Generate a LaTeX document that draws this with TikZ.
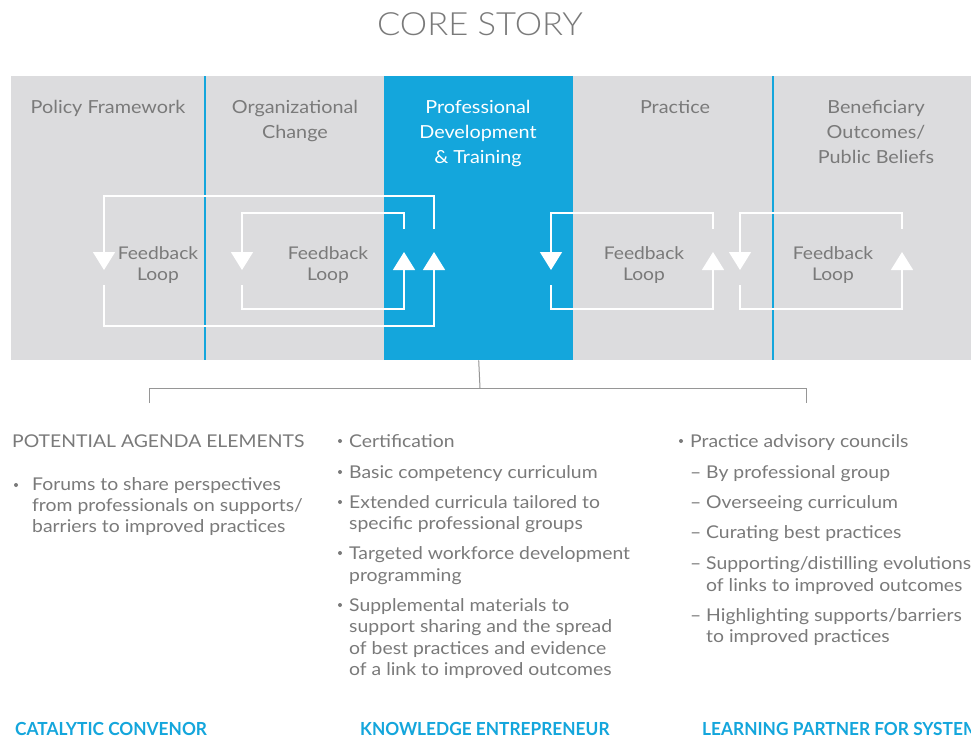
\documentclass[tikz,border=0pt]{standalone}
\usepackage{fontspec}
\setmainfont{Lato}[FakeStretch=1.1]
\newfontfamily\lightfont{Lato Light}[FakeStretch=1.08]
\newfontfamily\rolefont{Lato}[FakeStretch=0.96]
\usepackage{tikz}
\usepackage{xcolor}
\usetikzlibrary{arrows.meta, positioning, calc}

\definecolor{coreblue}{RGB}{20,166,220}
\definecolor{bandgray}{RGB}{220,220,222}
\definecolor{txtgray}{RGB}{122,122,122}
\definecolor{rulegray}{RGB}{150,150,150}

\tikzset{
    colhead/.style={anchor=north, align=center, inner sep=0pt, text=txtgray,
        font=\fontsize{18}{25}\selectfont},
    fbtext/.style={anchor=north, align=center, inner sep=0pt, text=txtgray,
        font=\fontsize{17.5}{21}\selectfont},
    fbline/.style={draw=white, line width=1.5pt, -{Triangle[width=22pt,length=18pt]}},
    bodyline/.style={anchor=base west, inner sep=0pt, text=txtgray,
        font=\fontsize{17.6}{21}\selectfont},
    rolelabel/.style={anchor=base west, inner sep=0pt, text=coreblue,
        font=\rolefont\fontsize{18}{22}\selectfont\bfseries}
}

\begin{document}
\begin{tikzpicture}[x=1pt, y=-1pt]
    \useasboundingbox (0,0) rectangle (971,740);
    \clip (0,0) rectangle (971,740);
    \fill[white] (0,0) rectangle (971,740);

    % title
    \node[anchor=base, inner sep=0pt, text=txtgray, font=\lightfont\fontsize{32}{36}\selectfont] (title) at (480,35) {CORE STORY};

    % band and columns
    \node[fill=bandgray, anchor=north west, minimum width=960pt, minimum height=284pt, inner sep=0pt] (band) at (11,76) {};
    \node[fill=coreblue, anchor=north west, minimum width=189pt, minimum height=284pt, inner sep=0pt] (pdt) at (384,76) {};
    \draw[coreblue, line width=1.2pt] (205,76) -- (205,360);
    \draw[coreblue, line width=1.2pt] (773,76) -- (773,360);

    \node[colhead] (policy) at (108,100) {Policy Framework};
    \node[colhead] (orgchange) at (295,100) {Organizational\\Change};
    \node[colhead, text=white] (profdev) at (478,100) {Professional\\Development\\\& Training};
    \node[colhead] (practice) at (675,100) {Practice};
    \node[colhead] (benefit) at (876,100) {Beneficiary\\Outcomes/\\Public Beliefs};

    % feedback loops
    \foreach \l/\r/\t/\b/\c/\n in {104/434/196/326/158/a, 242/404/213/309/328/b,
                                  551/713/213/309/644/c, 740/902/213/309/833/d} {
        \draw[fbline] (\r,229) -- (\r,\t) -- (\l,\t) -- (\l,270);
        \draw[fbline] (\l,285) -- (\l,\b) -- (\r,\b) -- (\r,252);
        \node[fbtext] (fb\n) at (\c,246.5) {Feedback\\Loop};
    }

    % bracket
    \coordinate (brtop) at (480,388);
    \coordinate (brleft) at (149,403);
    \coordinate (brright) at (806,403);
    \draw[rulegray, line width=1pt] (pdt.south) -- (brtop);
    \draw[rulegray, line width=1pt] (brleft) -- (brleft |- brtop) -- (brright |- brtop) -- (brright);

    % agenda text
    \foreach \x/\y/\t [count=\i] in {
        12/447/{POTENTIAL AGENDA ELEMENTS},
        32/490.5/{Forums to share perspectives},
        32/511/{from professionals on supports/},
        32/532/{barriers to improved practices},
        349/447/{Certification},
        349/478.5/{Basic competency curriculum},
        349/508.5/{Extended curricula tailored to},
        349/529.5/{specific professional groups},
        349/559.5/{Targeted workforce development},
        349/581.5/{programming},
        349/611.5/{Supplemental materials to},
        349/632.5/{support sharing and the spread},
        349/654.5/{of best practices and evidence},
        349/675.5/{of a link to improved outcomes},
        690/447/{Practice advisory councils},
        706/478.5/{\llap{–\ }By professional group},
        706/508.5/{\llap{–\ }Overseeing curriculum},
        706/538.5/{\llap{–\ }Curating best practices},
        706/569.5/{\llap{–\ }Supporting/distilling evolutions},
        706/591.5/{of links to improved outcomes},
        706/621.5/{\llap{–\ }Highlighting supports/barriers},
        706/642.5/{to improved practices}}
        \node[bodyline] (ln\i) at (\x,\y) {\t};

    \foreach \x/\y [count=\i] in {16/485, 340/441, 340/472, 340/502, 340/553, 340/605, 681/441}
        \fill[txtgray] (\x,\y) circle (2pt) coordinate (dot\i);

    % roles
    \node[rolelabel] (convenor) at (15,735) {CATALYTIC CONVENOR};
    \node[rolelabel] (entrepreneur) at (360,735) {KNOWLEDGE ENTREPRENEUR};
    \node[rolelabel] (partner) at (702,735) {LEARNING PARTNER FOR SYSTEMS};
\end{tikzpicture}
\end{document}
